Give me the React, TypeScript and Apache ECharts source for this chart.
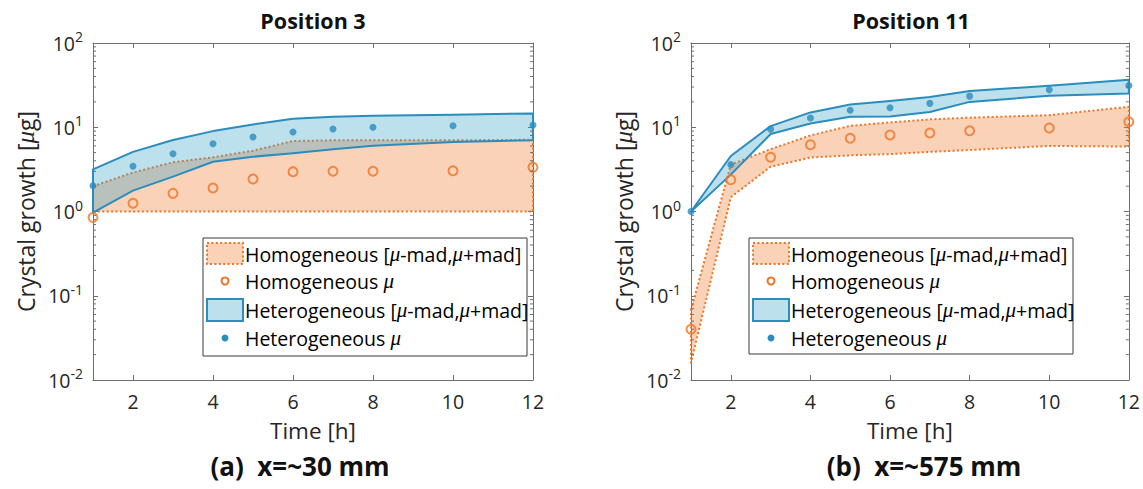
import React, { useEffect, useRef } from 'react';
import * as echarts from 'echarts';

const HOURS = [1, 2, 3, 4, 5, 6, 7, 8, 10, 12];
const X_TICKS = [2, 4, 6, 8, 10, 12];
const Y_TICKS = [0.01, 0.1, 1, 10, 100];
const Y_MINOR = [
  0.02, 0.03, 0.04, 0.05, 0.06, 0.07, 0.08, 0.09,
  0.2, 0.3, 0.4, 0.5, 0.6, 0.7, 0.8, 0.9,
  2, 3, 4, 5, 6, 7, 8, 9,
  20, 30, 40, 50, 60, 70, 80, 90,
];

// Position 3 (x = ~30 mm)
const P3_HOM_MEAN = [0.85, 1.25, 1.64, 1.9, 2.43, 2.97, 3.0, 3.0, 3.05, 3.35];
const P3_HOM_LO = [1, 1, 1, 1, 1, 1, 1, 1, 1, 1];
const P3_HOM_HI = [2.0, 2.9, 3.84, 4.4, 5.27, 6.87, 7.0, 7.0, 7.0, 7.1];
const P3_HET_MEAN = [2.02, 3.44, 4.85, 6.38, 7.66, 8.78, 9.53, 10.0, 10.4, 10.6];
const P3_HET_LO = [0.97, 1.77, 2.59, 3.9, 4.47, 4.9, 5.47, 6.04, 6.7, 7.0];
const P3_HET_HI = [3.16, 5.1, 7.06, 9.0, 10.8, 12.6, 13.3, 13.7, 14.1, 14.6];

// Position 11 (x = ~575 mm)
const P11_HOM_MEAN = [0.04, 2.38, 4.4, 6.2, 7.4, 8.1, 8.55, 9.1, 9.8, 11.6];
const P11_HOM_LO = [0.016, 1.48, 3.4, 4.37, 4.64, 4.8, 5.1, 5.37, 6.0, 5.9];
const P11_HOM_HI = [0.068, 3.6, 5.5, 8.0, 10.4, 11.4, 12.4, 13.0, 13.9, 17.5];
const P11_HET_MEAN = [1.0, 3.6, 9.5, 12.9, 15.9, 17.0, 19.2, 23.4, 27.8, 31.3];
const P11_HET_LO = [1.0, 2.74, 8.3, 11.1, 13.3, 13.4, 15.2, 20.0, 23.6, 25.2];
const P11_HET_HI = [1.0, 4.56, 10.3, 15.0, 18.6, 20.5, 22.9, 27.0, 31.0, 36.6];

const TITLES = ['Position 3', 'Position 11'];
const CAPTIONS = ['(a)  x=~30 mm', '(b)  x=~575 mm'];

const FONT = '"Open Sans", Lato, sans-serif';
const MU_FONT = '"Liberation Serif", "DejaVu Serif", serif';
const TXT = '#262626';
const AXIS = '#6e6e6e';
const BLUE = '#2b8cbe';
const BLUE_FILL = 'rgba(49,160,200,0.32)';
const ORANGE = '#ee7426';
const ORANGE_FILL = 'rgba(237,125,49,0.35)';
const DOT = [2, 2.4];

const GRIDS = [
  { left: 93, top: 43, width: 440, height: 337 },
  { left: 691, top: 43, width: 439, height: 337 },
];

function bandSeries(name: string, gi: number, lo: number[], hi: number[], fill: string, stroke: string, dash: any) {
  const data = HOURS.map((h, i) => [h, lo[i], hi[i]]);
  return {
    type: 'custom',
    name,
    xAxisIndex: gi * 2,
    yAxisIndex: gi * 2,
    data,
    encode: { x: 0, y: [1, 2] },
    renderItem: (params: any, api: any) => {
      if (params.dataIndex !== 0) return null;
      const top = data.map((d) => api.coord([d[0], d[2]]));
      const bot = data.map((d) => api.coord([d[0], d[1]])).reverse();
      return {
        type: 'polygon',
        shape: { points: top.concat(bot) },
        style: { fill, stroke, lineWidth: 2, lineDash: dash, lineJoin: 'round' },
      };
    },
  };
}

function scatterSeries(name: string, gi: number, vals: number[], hollow: boolean) {
  return {
    type: 'scatter',
    name,
    xAxisIndex: gi * 2,
    yAxisIndex: gi * 2,
    clip: false,
    symbol: 'circle',
    symbolSize: hollow ? 9 : 7,
    data: HOURS.map((h, i) => [h, vals[i]]),
    itemStyle: hollow
      ? { color: 'rgba(0,0,0,0)', borderColor: ORANGE, borderWidth: 2 }
      : { color: BLUE, borderWidth: 0 },
    z: 3,
  };
}

function minorTickSeries(gi: number) {
  return {
    type: 'custom',
    xAxisIndex: gi * 2,
    yAxisIndex: gi * 2,
    silent: true,
    data: Y_MINOR.map((v) => [1, v]),
    renderItem: (params: any, api: any) => {
      const v = api.value(1);
      const l = api.coord([1, v]);
      const r = api.coord([12, v]);
      return {
        type: 'group',
        children: [
          { type: 'line', shape: { x1: l[0], y1: l[1], x2: l[0] + 3, y2: l[1] }, style: { stroke: AXIS, lineWidth: 1 } },
          { type: 'line', shape: { x1: r[0] - 3, y1: r[1], x2: r[0], y2: r[1] }, style: { stroke: AXIS, lineWidth: 1 } },
        ],
      };
    },
    z: 5,
  };
}

const muRich = {
  t: { fontFamily: FONT, fontSize: 19.5, color: TXT },
  m: { fontFamily: MU_FONT, fontStyle: 'italic', fontSize: 21, color: TXT },
};

function legendGroup(x: number, y: number, w: number, h: number) {
  const rows = [16, 43, 72, 100];
  return {
    type: 'group',
    x,
    y,
    z: 100,
    children: [
      { type: 'rect', shape: { x: 0, y: 0, width: w, height: h }, style: { fill: '#fff', stroke: '#3a3a3a', lineWidth: 1 } },
      { type: 'rect', shape: { x: 4, y: 5, width: 36, height: 21 }, style: { fill: ORANGE_FILL, stroke: ORANGE, lineWidth: 2, lineDash: DOT } },
      { type: 'circle', shape: { cx: 22, cy: rows[1], r: 3.5 }, style: { fill: 'none', stroke: ORANGE, lineWidth: 2 } },
      { type: 'rect', shape: { x: 4, y: 61, width: 36, height: 22 }, style: { fill: BLUE_FILL, stroke: BLUE, lineWidth: 2 } },
      { type: 'circle', shape: { cx: 22, cy: rows[3], r: 3.5 }, style: { fill: BLUE, stroke: 'none' } },
      { type: 'text', x: 42, y: rows[0], style: { text: '{t|Homogeneous [}{m|μ}{t|-mad,}{m|μ}{t|+mad]}', rich: muRich, verticalAlign: 'middle' } },
      { type: 'text', x: 42, y: rows[1], style: { text: '{t|Homogeneous }{m|μ}', rich: muRich, verticalAlign: 'middle' } },
      { type: 'text', x: 42, y: rows[2], style: { text: '{t|Heterogeneous [}{m|μ}{t|-mad,}{m|μ}{t|+mad]}', rich: muRich, verticalAlign: 'middle' } },
      { type: 'text', x: 42, y: rows[3], style: { text: '{t|Heterogeneous }{m|μ}', rich: muRich, verticalAlign: 'middle' } },
    ],
  };
}

function buildOption() {
  const xAxes: any[] = [];
  const yAxes: any[] = [];
  GRIDS.forEach((_, gi) => {
    xAxes.push({
      type: 'value', gridIndex: gi, position: 'bottom', min: 1, max: 12,
      name: 'Time [h]', nameLocation: 'middle', nameGap: 39,
      nameTextStyle: { fontFamily: FONT, fontSize: 22.5, color: TXT },
      axisLine: { show: true, onZero: false, lineStyle: { color: AXIS, width: 1 } },
      axisTick: { show: true, inside: true, length: 5, customValues: X_TICKS, lineStyle: { color: AXIS } },
      axisLabel: { show: true, customValues: X_TICKS, margin: 11, fontFamily: FONT, fontSize: 19.5, color: TXT },
      splitLine: { show: false },
    });
    xAxes.push({
      type: 'value', gridIndex: gi, position: 'top', min: 1, max: 12,
      axisLine: { show: true, onZero: false, lineStyle: { color: AXIS, width: 1 } },
      axisTick: { show: true, inside: true, length: 5, customValues: X_TICKS, lineStyle: { color: AXIS } },
      axisLabel: { show: false },
      splitLine: { show: false },
    });
    yAxes.push({
      type: 'log', logBase: 10, gridIndex: gi, position: 'left', min: 0.01, max: 100,
      name: '{n|Crystal growth [}{m|μ}{n|g]}', nameLocation: 'middle', nameGap: 55, nameRotate: 90,
      nameTextStyle: {
        rich: {
          n: { fontFamily: FONT, fontSize: 23, color: TXT },
          m: { fontFamily: MU_FONT, fontStyle: 'italic', fontSize: 25, color: TXT },
        },
      },
      axisLine: { show: true, onZero: false, lineStyle: { color: AXIS, width: 1 } },
      axisTick: { show: true, inside: true, length: 5, customValues: Y_TICKS, lineStyle: { color: AXIS } },
      axisLabel: {
        show: true, customValues: Y_TICKS, margin: 10,
        formatter: (v: number) => `{b|10}{s|${Math.round(Math.log10(v))}}`,
        rich: {
          b: { fontFamily: FONT, fontSize: 19.5, color: TXT },
          s: { fontFamily: FONT, fontSize: 14, color: TXT, padding: [0, 0, 13, 0] },
        },
      },
      splitLine: { show: false },
      minorTick: { show: false },
    });
    yAxes.push({
      type: 'log', logBase: 10, gridIndex: gi, position: 'right', min: 0.01, max: 100,
      axisLine: { show: true, onZero: false, lineStyle: { color: AXIS, width: 1 } },
      axisTick: { show: true, inside: true, length: 5, customValues: Y_TICKS, lineStyle: { color: AXIS } },
      axisLabel: { show: false },
      splitLine: { show: false },
    });
  });

  const series: any[] = [
    bandSeries('Homogeneous band P3', 0, P3_HOM_LO, P3_HOM_HI, ORANGE_FILL, ORANGE, DOT),
    scatterSeries('Homogeneous mean P3', 0, P3_HOM_MEAN, true),
    bandSeries('Heterogeneous band P3', 0, P3_HET_LO, P3_HET_HI, BLUE_FILL, BLUE, null),
    scatterSeries('Heterogeneous mean P3', 0, P3_HET_MEAN, false),
    minorTickSeries(0),
    bandSeries('Homogeneous band P11', 1, P11_HOM_LO, P11_HOM_HI, ORANGE_FILL, ORANGE, DOT),
    scatterSeries('Homogeneous mean P11', 1, P11_HOM_MEAN, true),
    bandSeries('Heterogeneous band P11', 1, P11_HET_LO, P11_HET_HI, BLUE_FILL, BLUE, null),
    scatterSeries('Heterogeneous mean P11', 1, P11_HET_MEAN, false),
    minorTickSeries(1),
  ];

  const titleCenters = [313, 911];
  const captionCenters = [300, 924];
  const graphic: any[] = [];
  TITLES.forEach((t, i) => {
    graphic.push({
      type: 'text', x: titleCenters[i], y: 20, z: 100,
      style: { text: t, fontFamily: FONT, fontWeight: 'bold', fontSize: 21.5, fill: '#111', textAlign: 'center', textVerticalAlign: 'middle' },
    });
    graphic.push({
      type: 'text', x: captionCenters[i], y: 466, z: 100,
      style: { text: CAPTIONS[i], fontFamily: FONT, fontWeight: 'bold', fontSize: 26, fill: '#111', textAlign: 'center', textVerticalAlign: 'middle' },
    });
  });
  graphic.push(legendGroup(203, 238, 324, 118));
  graphic.push(legendGroup(749, 238, 324, 116));

  return {
    animation: false,
    backgroundColor: '#fff',
    textStyle: { fontFamily: FONT },
    grid: GRIDS.map((g) => ({ ...g, containLabel: false })),
    xAxis: xAxes,
    yAxis: yAxes,
    series,
    graphic,
  };
}

export default function App() {
  const ref = useRef<HTMLDivElement>(null);
  useEffect(() => {
    document.body.style.margin = '0';
    const chart = echarts.init(ref.current as HTMLDivElement, null, { renderer: 'svg' });
    chart.setOption(buildOption() as any);
    return () => chart.dispose();
  }, []);
  return <div ref={ref} style={{ width: 1143, height: 489 }} />;
}
